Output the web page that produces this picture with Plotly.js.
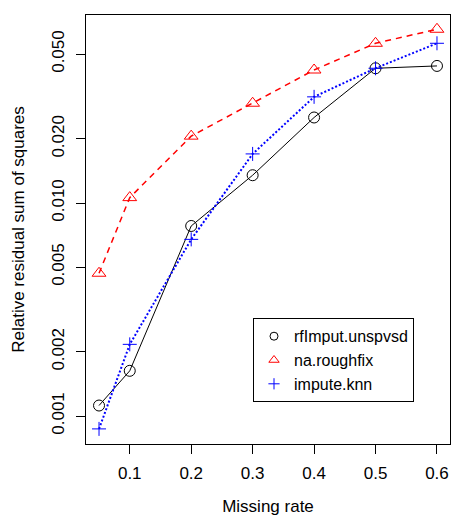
<!DOCTYPE html>
<html>
<head>
<meta charset="utf-8">
<script src="https://cdn.plot.ly/plotly-3.0.1.min.js"></script>
<style>
  html, body { margin: 0; padding: 0; background: #ffffff; }
  #chart { width: 451px; height: 516px; }
</style>
</head>
<body>
<div id="chart"></div>
<script>
// Data
var missingRate = [0.05, 0.1, 0.2, 0.3, 0.4, 0.5, 0.6];
var rfImputUnspvsd = [0.00112, 0.00163, 0.0078, 0.0135, 0.0252, 0.0429, 0.0440];
var naRoughfix = [0.00468, 0.0106, 0.0206, 0.0294, 0.0421, 0.0562, 0.0654];
var imputeKnn = [0.00087, 0.00217, 0.00675, 0.0170, 0.0315, 0.0429, 0.0562];
var seriesNames = ["rfImput.unspvsd", "na.roughfix", "impute.knn"];
var xTickVals = [0.1, 0.2, 0.3, 0.4, 0.5, 0.6];
var xTickText = ["0.1", "0.2", "0.3", "0.4", "0.5", "0.6"];
var yTickVals = [0.001, 0.002, 0.005, 0.01, 0.02, 0.05];
var yTickText = ["0.001", "0.002", "0.005", "0.010", "0.020", "0.050"];

var FONT = "Liberation Sans, Arial, Helvetica, sans-serif";
var FS = 17;

var traces = [
  { x: missingRate, y: rfImputUnspvsd, mode: "lines+markers", showlegend: false,
    line: { color: "#000000", width: 1 },
    marker: { symbol: "circle-open", size: 11, color: "#000000", line: { width: 1, color: "#000000" } } },
  { x: missingRate, y: naRoughfix, mode: "lines+markers", showlegend: false,
    line: { color: "#ff0000", width: 1.5, dash: "6px,5px" },
    marker: { symbol: "triangle-up-open", size: 12, color: "#ff0000", line: { width: 1, color: "#ff0000" } } },
  { x: missingRate, y: imputeKnn, mode: "lines+markers", showlegend: false,
    line: { color: "#0000ff", width: 2, dash: "2px,2px" },
    marker: { symbol: "cross-thin-open", size: 10, color: "#0000ff", line: { width: 1, color: "#0000ff" } } },
  // legend entries (symbols only, as in the reference legend)
  { x: [null], y: [null], mode: "markers", name: seriesNames[0],
    marker: { symbol: "circle-open", size: 8, color: "#000000", line: { width: 1, color: "#000000" } } },
  { x: [null], y: [null], mode: "markers", name: seriesNames[1],
    marker: { symbol: "triangle-up-open", size: 9, color: "#ff0000", line: { width: 1, color: "#ff0000" } } },
  { x: [null], y: [null], mode: "markers", name: seriesNames[2],
    marker: { symbol: "cross-thin-open", size: 8, color: "#0000ff", line: { width: 1, color: "#0000ff" } } }
];

var layout = {
  width: 451, height: 516,
  margin: { l: 86, r: 1, t: 15, b: 72, pad: 0 },
  paper_bgcolor: "#ffffff", plot_bgcolor: "#ffffff",
  font: { family: FONT, size: FS, color: "#000000" },
  showlegend: true,
  legend: {
    x: 0.4588, y: 0.293, xanchor: "left", yanchor: "top",
    bgcolor: "#ffffff", bordercolor: "#000000", borderwidth: 1,
    font: { family: FONT, size: 16, color: "#000000" },
    traceorder: "normal"
  },
  xaxis: {
    type: "linear", range: [0.0288, 0.6212],
    tickvals: xTickVals, ticktext: xTickText,
    ticks: "outside", ticklen: 9, tickwidth: 1, tickcolor: "#000000",
    ticklabelstandoff: 5,
    showline: true, mirror: true, linecolor: "#000000", linewidth: 1,
    showgrid: false, zeroline: false,
    tickfont: { family: FONT, size: FS, color: "#000000" },
    title: { text: "Missing rate", font: { family: FONT, size: FS, color: "#000000" }, standoff: 21 }
  },
  yaxis: {
    type: "log", range: [Math.log10(0.000739), Math.log10(0.0763)],
    tickvals: yTickVals, ticktext: yTickText, tickangle: -90,
    ticks: "outside", ticklen: 9, tickwidth: 1, tickcolor: "#000000",
    ticklabelstandoff: 5,
    showline: true, mirror: true, linecolor: "#000000", linewidth: 1,
    showgrid: false, zeroline: false,
    tickfont: { family: FONT, size: FS, color: "#000000" },
    title: { text: "Relative residual sum of squares", font: { family: FONT, size: FS, color: "#000000" }, standoff: 20 }
  }
};

Plotly.newPlot("chart", traces, layout, { displayModeBar: false, staticPlot: true });
</script>
</body>
</html>
